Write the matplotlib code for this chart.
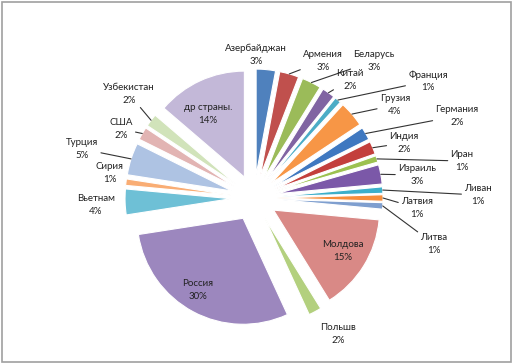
#!/usr/bin/env python
"""
	Exploded pie: share of countries (Excel-style chart).
"""

import numpy as np
import matplotlib.pyplot as plt
from matplotlib.patches import Rectangle

# Data
countries = ['Азербайджан', 'Армения', 'Беларусь', 'Китай', 'Франция', 'Грузия',
             'Германия', 'Индия', 'Иран', 'Израиль', 'Ливан', 'Латвия', 'Литва',
             'Молдова', 'Польшв', 'Россия', 'Вьетнам', 'Сирия', 'Турция', 'США',
             'Узбекистан', 'др страны.']
shares = [3, 3, 3, 2, 1, 4, 2, 2, 1, 3, 1, 1, 1, 15, 2, 30, 4, 1, 5, 2, 2, 14]

colors = ['#4F81BD', '#C0504D', '#9BBB59', '#8064A2', '#4BACC6', '#F79646',
          '#3F78C0', '#C33F3C', '#9CC150', '#7B58A8', '#3CAFCA', '#F78D3A',
          '#7F9FCF', '#D98986', '#B3D07E', '#9C87BE', '#6EC0D6', '#F9AD74',
          '#AEC3E3', '#E2B4B3', '#D1E3BA', '#C3B8D8']

# Label centres in pixels (x from left, y from top) and whether a leader line is drawn
label_pos = [(256, 55), (323, 61), (374, 61), (350, 80), (428, 81), (395, 105),
             (457, 116), (404, 143), (462, 161), (417, 175), (478, 195), (417, 208),
             (434, 244), (343, 251), (338, 334), (198, 290), (96, 205), (110, 173),
             (82, 149), (121, 129), (129, 94), (208, 114)]
leader = [False, True, True, True, True, True, True, True, True, True, True, True,
          True, False, False, False, False, False, True, True, True, False]

W, H = 512, 363
fig = plt.figure(figsize=(W / 100, H / 100), dpi=100)
ax = fig.add_axes([0, 0, 1, 1])

# pie centre / radius / explode distance, in pixels
cx, cy, r, expl = 254, H - 198, 106, 23
wedges, _ = ax.pie(shares, colors=colors, startangle=90, counterclock=False,
                   explode=[expl] * len(shares), center=(cx, cy), radius=r,
                   wedgeprops=dict(edgecolor='white', linewidth=0.8),
                   frame=True)
ax.set_xlim(0, W)
ax.set_ylim(0, H)
ax.set_aspect('equal')
ax.axis('off')

for w, name, v, (lx, ly), has_line in zip(wedges, countries, shares, label_pos, leader):
	txt = '%s\n%d%%' % (name, v)
	mid = np.deg2rad((w.theta1 + w.theta2) / 2.0)
	wx = w.center[0] + w.r * np.cos(mid)
	wy = w.center[1] + w.r * np.sin(mid)
	if has_line:
		ax.annotate(txt, xy=(wx, wy), xytext=(lx, H - ly), ha='center', va='center',
		            fontsize=7.0, family='Lato', color='#222222', linespacing=1.5,
		            arrowprops=dict(arrowstyle='-', color='#333333', lw=0.8,
		                            shrinkA=0, shrinkB=0))
	else:
		ax.text(lx, H - ly, txt, ha='center', va='center', fontsize=7.0, family='Lato',
		        color='#222222', linespacing=1.5)

# Chart area border
fig.patches.append(Rectangle((1.5 / W, 1.5 / H), 1 - 3.0 / W, 1 - 3.0 / H,
                             transform=fig.transFigure, fill=False,
                             edgecolor='#A0A0A0', linewidth=1.2))

fig.savefig('out.png', dpi=100)
plt.close('all')
